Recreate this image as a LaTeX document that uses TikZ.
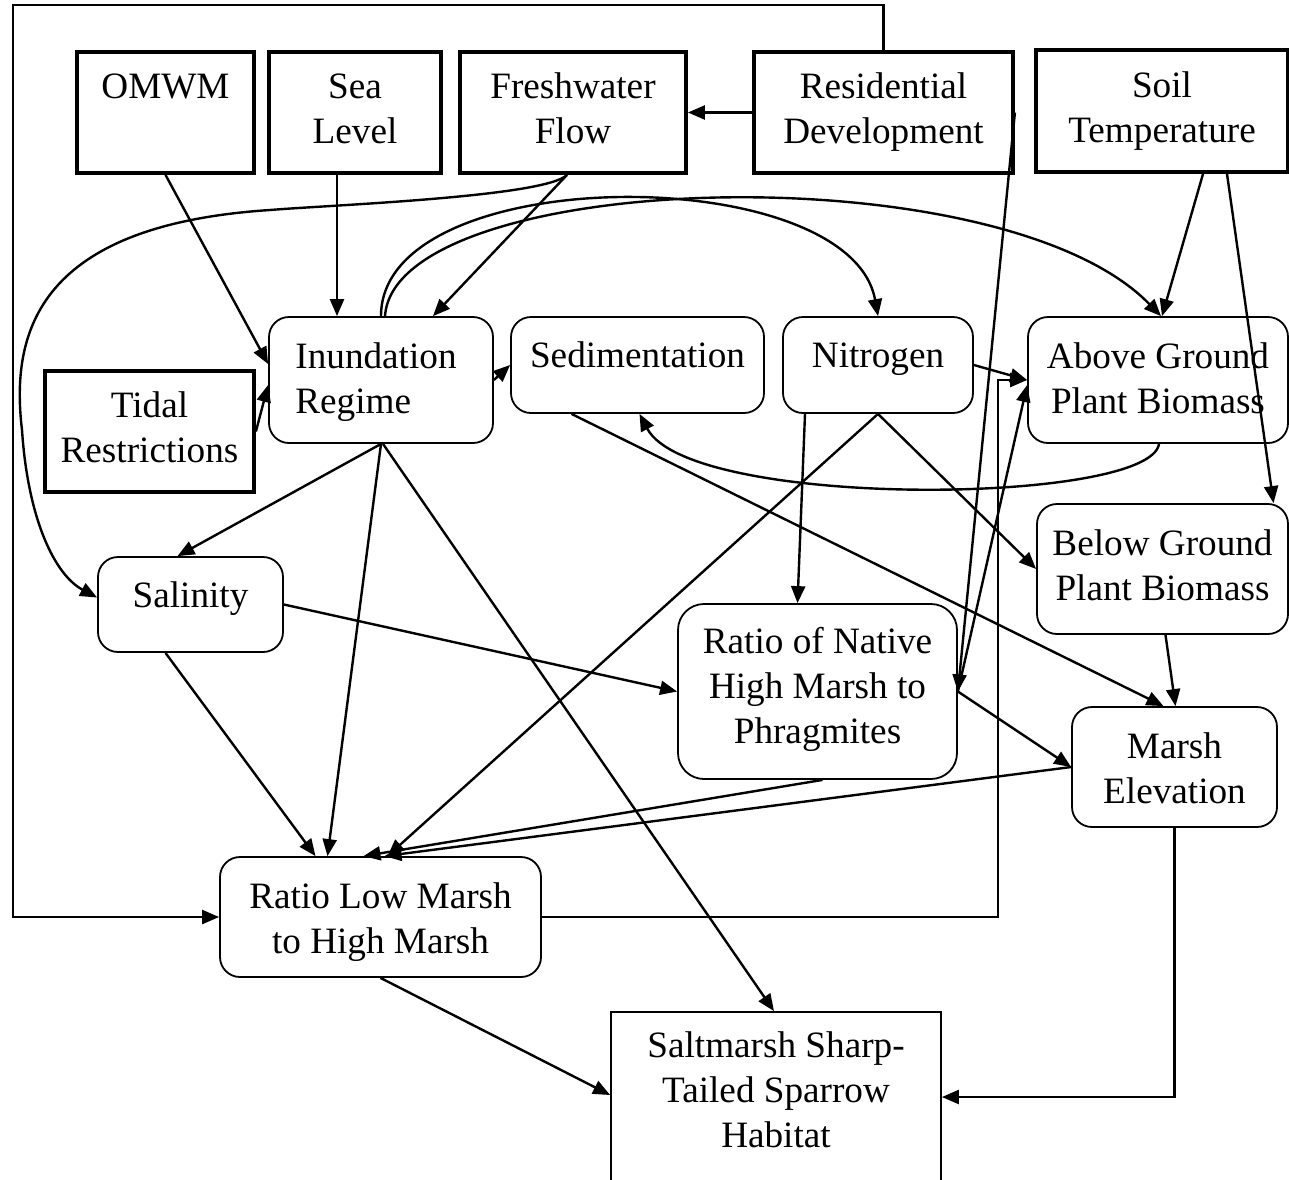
\documentclass[tikz,border=0pt]{standalone}
\usepackage{fontspec}
\setmainfont{Liberation Serif}
\usetikzlibrary{arrows.meta}

% box caption: first baseline raised #1 above the box centre
\newcommand{\bxtext}[2]{\raisebox{#1}[0pt][0pt]{\begin{tabular}[t]{@{}c@{}}#2\end{tabular}}}
\newcommand{\bxtextl}[2]{\raisebox{#1}[0pt][0pt]{\begin{tabular}[t]{@{}l@{}}#2\end{tabular}}}

\tikzset{
  lbl/.style={font=\fontsize{37.2}{45}\selectfont, inner sep=0pt},
  heavybox/.style={lbl, draw, line width=3.8pt},
  softbox/.style={lbl, draw, line width=1.8pt, rounded corners=20pt},
  plainbox/.style={lbl, draw, line width=1.8pt},
  link/.style={line width=2.4pt, -{Triangle[length=17pt,width=14pt]}},
}

\begin{document}
\begin{tikzpicture}[x=1pt,y=-1pt]
\useasboundingbox (0,0) rectangle (1289,1179);

% drivers along the top
\node[heavybox, minimum width=177pt, minimum height=121pt] (omwm) at (165.5,112.5) {\bxtext{14.5pt}{OMWM}};
\node[heavybox, minimum width=172pt, minimum height=121pt] (sea) at (355,112.5) {\bxtext{14.5pt}{Sea\\Level}};
\node[heavybox, minimum width=226pt, minimum height=121pt] (fresh) at (573,112.5) {\bxtext{14.5pt}{Freshwater\\Flow}};
\node[heavybox, minimum width=259pt, minimum height=121pt] (resid) at (883.5,112.5) {\bxtext{14.5pt}{Residential\\Development}};
\node[heavybox, minimum width=252pt, minimum height=122pt] (soil) at (1162,111) {\bxtext{14pt}{Soil\\Temperature}};
\node[heavybox, minimum width=209pt, minimum height=121pt] (tidal) at (149.5,431.5) {\bxtext{14.5pt}{Tidal\\Restrictions}};

% intermediate processes
\node[softbox, minimum width=224pt, minimum height=126pt] (inund) at (381,380) {\kern-10pt\bxtextl{12pt}{Inundation\\Regime}};
\node[softbox, minimum width=253pt, minimum height=96pt] (sedi) at (637.5,365) {\bxtext{-2pt}{Sedimentation}};
\node[softbox, minimum width=190pt, minimum height=96pt] (nitro) at (878,365) {\bxtext{-2pt}{Nitrogen}};
\node[softbox, minimum width=260pt, minimum height=126pt] (above) at (1158,380) {\bxtext{12pt}{Above Ground\\Plant Biomass}};
\node[softbox, minimum width=251pt, minimum height=130pt] (below) at (1162.5,569) {\bxtext{14pt}{Below Ground\\Plant Biomass}};
\node[softbox, minimum width=185pt, minimum height=95pt] (salin) at (190.5,604.5) {\bxtext{-2.5pt}{Salinity}};
\node[softbox, rounded corners=26pt, minimum width=279pt, minimum height=175pt] (native) at (817.5,691.5) {\bxtext{38.5pt}{Ratio of Native\\High Marsh to\\Phragmites}};
\node[softbox, minimum width=205pt, minimum height=120pt] (elev) at (1174.5,767) {\bxtext{9pt}{Marsh\\Elevation}};
\node[softbox, minimum width=321pt, minimum height=120pt] (rlm) at (380.5,917) {\bxtext{9pt}{Ratio Low Marsh\\to High Marsh}};

% endpoint
\node[plainbox, minimum width=330pt, minimum height=188pt] (habitat) at (776,1106) {\bxtext{49pt}{Saltmarsh Sharp-\\Tailed Sparrow\\Habitat}};

% bend points of the orthogonal connectors
\coordinate (frameTL) at (13,5);
\coordinate (rbend) at (998,380);

% connectors
\draw[link] (resid.north) |- (frameTL) |- (rlm.west);
\draw[link] (rlm.east) -| (rbend) -- (above.west);
\draw[link] (resid.west) -- (fresh.east);
\draw[link] (resid.east) -- (native.east);
\draw[link] ([xshift=-6pt]fresh.south) -- ([xshift=52pt]inund.north);
\draw[link] ([xshift=-6pt]fresh.south) .. controls (545,197) and (330,205) .. (270,210)
  .. controls (40,225) and (10,330) .. (22,430)
  .. controls (28,520) and (55,575) .. ([yshift=7pt]salin.west);
\draw[link] (omwm.south) -- ([yshift=16pt]inund.west);
\draw[link] (tidal.east) -- ([yshift=-5pt]inund.west);
\draw[link] ([xshift=-18pt]sea.south) -- ([xshift=-44pt]inund.north);
\draw[link] (inund.east) -- (sedi.west);
\draw[link] (inund.north) .. controls (381,160) and (850,160) .. (nitro.north);
\draw[link] ([xshift=4pt]inund.north) .. controls (395,170) and (1000,150) .. ([xshift=3pt]above.north);
\draw[link] (nitro.east) -- (above.west);
\draw[link] (native.east) -- ([yshift=-5pt]above.west);
\draw[link] (native.east) -- (elev.west);
\draw[link] ([xshift=41pt]soil.south) -- ([xshift=4pt]above.north);
\draw[link] ([xshift=65pt]soil.south) -- ([xshift=111pt]below.north);
\draw[link] ([xshift=1pt]above.south) .. controls (1150,505) and (690,510) .. ([xshift=2pt]sedi.south);
\draw[link] ([xshift=-66pt]sedi.south) -- ([xshift=-11pt]elev.north);
\draw[link] ([xshift=3pt]below.south) -- ([xshift=1pt]elev.north);
\draw[link] ([xshift=-73pt]nitro.south) -- ([xshift=-20pt]native.north);
\draw[link] (nitro.south) -- ([xshift=7pt]rlm.north);
\draw[link] (nitro.south) -- (below.west);
\draw[link] (inund.south) -- ([xshift=-13pt]salin.north);
\draw[link] (inund.south) -- ([xshift=-53pt]rlm.north);
\draw[link] ([xshift=2pt]inund.south) -- ([xshift=-2pt]habitat.north);
\draw[link] (salin.east) -- (native.west);
\draw[link] ([xshift=-25pt]salin.south) -- ([xshift=-65pt]rlm.north);
\draw[link] ([xshift=5pt]native.south) -- ([xshift=-17pt]rlm.north);
\draw[link] (elev.west) -- ([xshift=4pt]rlm.north);
\draw[link] (rlm.south) -- ([yshift=11pt]habitat.west);
\draw[link] (elev.south) |- ([yshift=9pt]habitat.east);
\end{tikzpicture}
\end{document}
